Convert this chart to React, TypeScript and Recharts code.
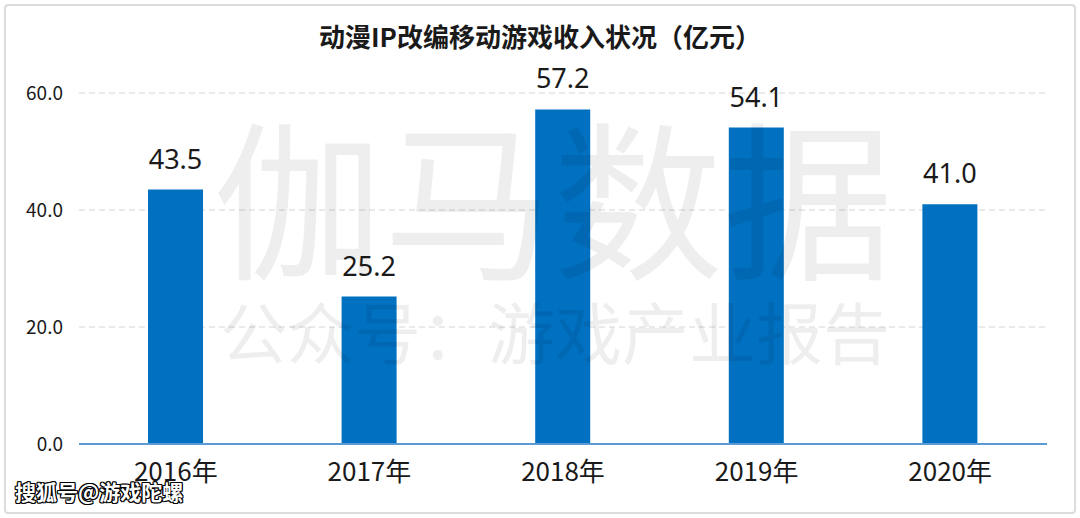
import React from "react";
import { BarChart, Bar, XAxis, YAxis, CartesianGrid, LabelList } from "recharts";

const categories = ["2016年", "2017年", "2018年", "2019年", "2020年"];
const revenue = [43.5, 25.2, 57.2, 54.1, 41.0];
const yTicks = [0, 20, 40, 60];
const title = "动漫IP改编移动游戏收入状况（亿元）";

const data = categories.map((c, i) => ({ year: c, value: revenue[i] }));

const FONT = "'Noto Sans CJK SC', 'Noto Sans', sans-serif";
const LABEL_FONT = "'Noto Sans', sans-serif";

export default function App() {
  return (
    <div style={{ position: "fixed", left: 0, top: 0, width: 1080, height: 518, background: "#fff", overflow: "hidden" }}>
      <div style={{ position: "absolute", left: 4, top: 4, width: 1068, height: 506, border: "2px solid #dcdcdc", borderRadius: 4 }} />
      <div style={{ position: "absolute", left: 0, top: 19, width: 1080, textAlign: "center", fontFamily: FONT, fontWeight: 700, fontSize: 26, lineHeight: 1.3, color: "#1a1a1a" }}>
        {title}
      </div>
      <div style={{ position: "absolute", left: 0, top: 0 }}>
        <BarChart width={1080} height={518} data={data} margin={{ top: 93, right: 33, bottom: 0, left: 0 }}>
          <CartesianGrid vertical={false} stroke="#d4d4d4" strokeDasharray="6 4" />
          <XAxis
            dataKey="year"
            height={74}
            tickLine={false}
            tickSize={0}
            tickMargin={19}
            axisLine={{ stroke: "#5b9bd5", strokeWidth: 2 }}
            tick={{ fill: "#1a1a1a", fontSize: 26, fontFamily: FONT }}
          />
          <YAxis
            width={79}
            domain={[0, 60]}
            ticks={yTicks}
            interval={0}
            tickFormatter={(v: number) => v.toFixed(1)}
            tickLine={false}
            axisLine={false}
            tickSize={0}
            tickMargin={16}
            tick={{ fill: "#1a1a1a", fontSize: 19, fontFamily: FONT }}
          />
          <Bar dataKey="value" fill="#0070c0" barSize={55} isAnimationActive={false}>
            <LabelList
              dataKey="value"
              position="top"
              offset={21}
              formatter={(v: number) => v.toFixed(1)}
              style={{ fill: "#1a1a1a", fontSize: 27, fontFamily: LABEL_FONT }}
            />
          </Bar>
        </BarChart>
      </div>
      <div style={{ position: "absolute", left: 213, top: 108, fontFamily: FONT, fontSize: 170, lineHeight: 1, color: "rgba(0,0,0,0.065)", whiteSpace: "nowrap", pointerEvents: "none" }}>
        伽马数据
      </div>
      <div style={{ position: "absolute", left: 220, top: 296, fontFamily: FONT, fontSize: 67, lineHeight: 1, color: "rgba(0,0,0,0.065)", whiteSpace: "nowrap", pointerEvents: "none" }}>
        公众号：游戏产业报告
      </div>
      <div style={{ position: "absolute", left: 15, top: 480, fontFamily: FONT, fontWeight: 700, fontSize: 21, lineHeight: 1.1, color: "#fff", whiteSpace: "nowrap", textShadow: "1px 1px 0 #000, -1px -1px 0 #000, 1px -1px 0 #000, -1px 1px 0 #000, 0 1px 0 #000, 1px 0 0 #000, 0 -1px 0 #000, -1px 0 0 #000" }}>
        搜狐号@游戏陀螺
      </div>
    </div>
  );
}
